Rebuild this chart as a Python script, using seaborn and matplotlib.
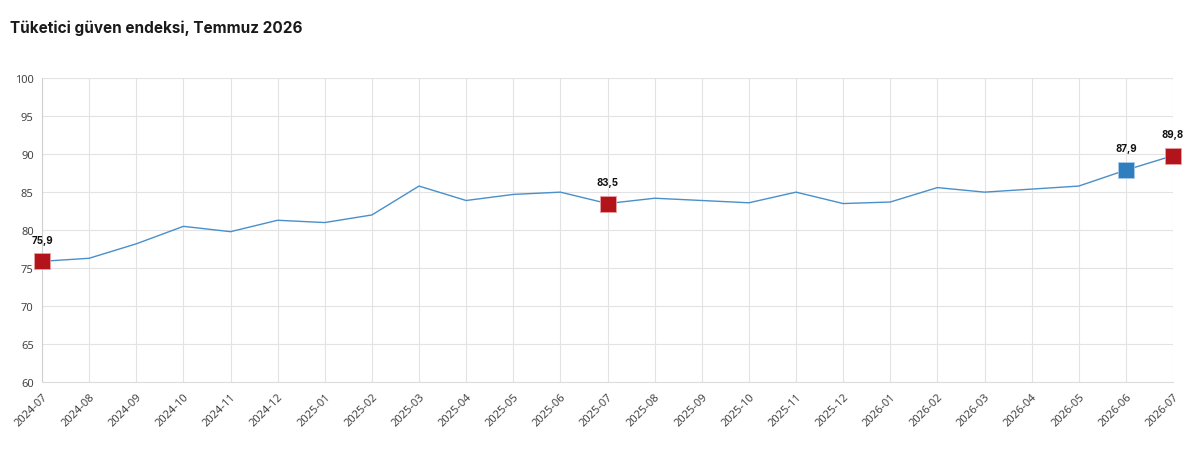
import numpy as np
import pandas as pd
import matplotlib
matplotlib.use('Agg')
import matplotlib.pyplot as plt
import seaborn as sns

months = ['2024-07', '2024-08', '2024-09', '2024-10', '2024-11', '2024-12',
          '2025-01', '2025-02', '2025-03', '2025-04', '2025-05', '2025-06',
          '2025-07', '2025-08', '2025-09', '2025-10', '2025-11', '2025-12',
          '2026-01', '2026-02', '2026-03', '2026-04', '2026-05', '2026-06',
          '2026-07']
index_values = [75.9, 76.3, 78.2, 80.5, 79.8, 81.3, 81.0, 82.0, 85.8, 83.9,
                84.7, 85.0, 83.5, 84.2, 83.9, 83.6, 85.0, 83.5, 83.7, 85.6,
                85.0, 85.4, 85.8, 87.9, 89.8]
# highlighted points
red_months = ['2024-07', '2025-07', '2026-07']
blue_months = ['2026-06']
y_ticks = [60, 65, 70, 75, 80, 85, 90, 95, 100]
title = 'Tüketici güven endeksi, Temmuz 2026'

sns.set_style('white')
plt.rcParams['font.family'] = ['Noto Sans', 'DejaVu Sans']

df = pd.DataFrame({'month': months, 'value': index_values})
df['pos'] = np.arange(len(months))

fig = plt.figure(figsize=(12, 4.6), dpi=100)
ax = fig.add_axes([0.035, 0.167, 0.9425, 0.661])

sns.lineplot(ax=ax, data=df, x='pos', y='value', color='#4a8fca', lw=1)

red_df = df[df['month'].isin(red_months)]
blue_df = df[df['month'].isin(blue_months)]
sns.scatterplot(ax=ax, data=red_df, x='pos', y='value', marker='s', s=120,
                color='#b3141c', edgecolor='#e8a0a0', linewidth=0.6, zorder=5,
                clip_on=False)
sns.scatterplot(ax=ax, data=blue_df, x='pos', y='value', marker='s', s=120,
                color='#2f7fbf', edgecolor='#a8cbe8', linewidth=0.6, zorder=5,
                clip_on=False)

hl = pd.concat([red_df, blue_df])
for _, row in hl.iterrows():
    ax.annotate(f"{row['value']:.1f}".replace('.', ','), (row['pos'], row['value']),
                xytext=(0, 12), textcoords='offset points', ha='center', va='bottom',
                fontsize=7, fontweight='bold', color='#111111', family='Inter')

ax.set_xlim(0, len(months) - 1)
ax.set_ylim(60, 100)
ax.set_xticks(df['pos'])
ax.set_xticklabels(months, rotation=45, ha='right', rotation_mode='anchor',
                   fontsize=8, color='#444444')
ax.set_yticks(y_ticks)
ax.set_yticklabels(y_ticks, fontsize=8, color='#444444')
ax.grid(True, color='#e3e3e3', lw=0.8)
ax.set_axisbelow(True)
ax.tick_params(axis='both', length=4, color='#d8d8d8', width=0.8, pad=2)
for side in ['top', 'right']:
    ax.spines[side].set_visible(False)
ax.spines['left'].set_color('#d0d0d0')
ax.spines['bottom'].set_color('#dcdcdc')
ax.set_xlabel('')
ax.set_ylabel('')

fig.text(0.008, 0.938, title, fontsize=11, fontweight='bold', color='#1a1a1a',
         family='Inter', ha='left', va='center')

fig.savefig('out.png', dpi=100)
